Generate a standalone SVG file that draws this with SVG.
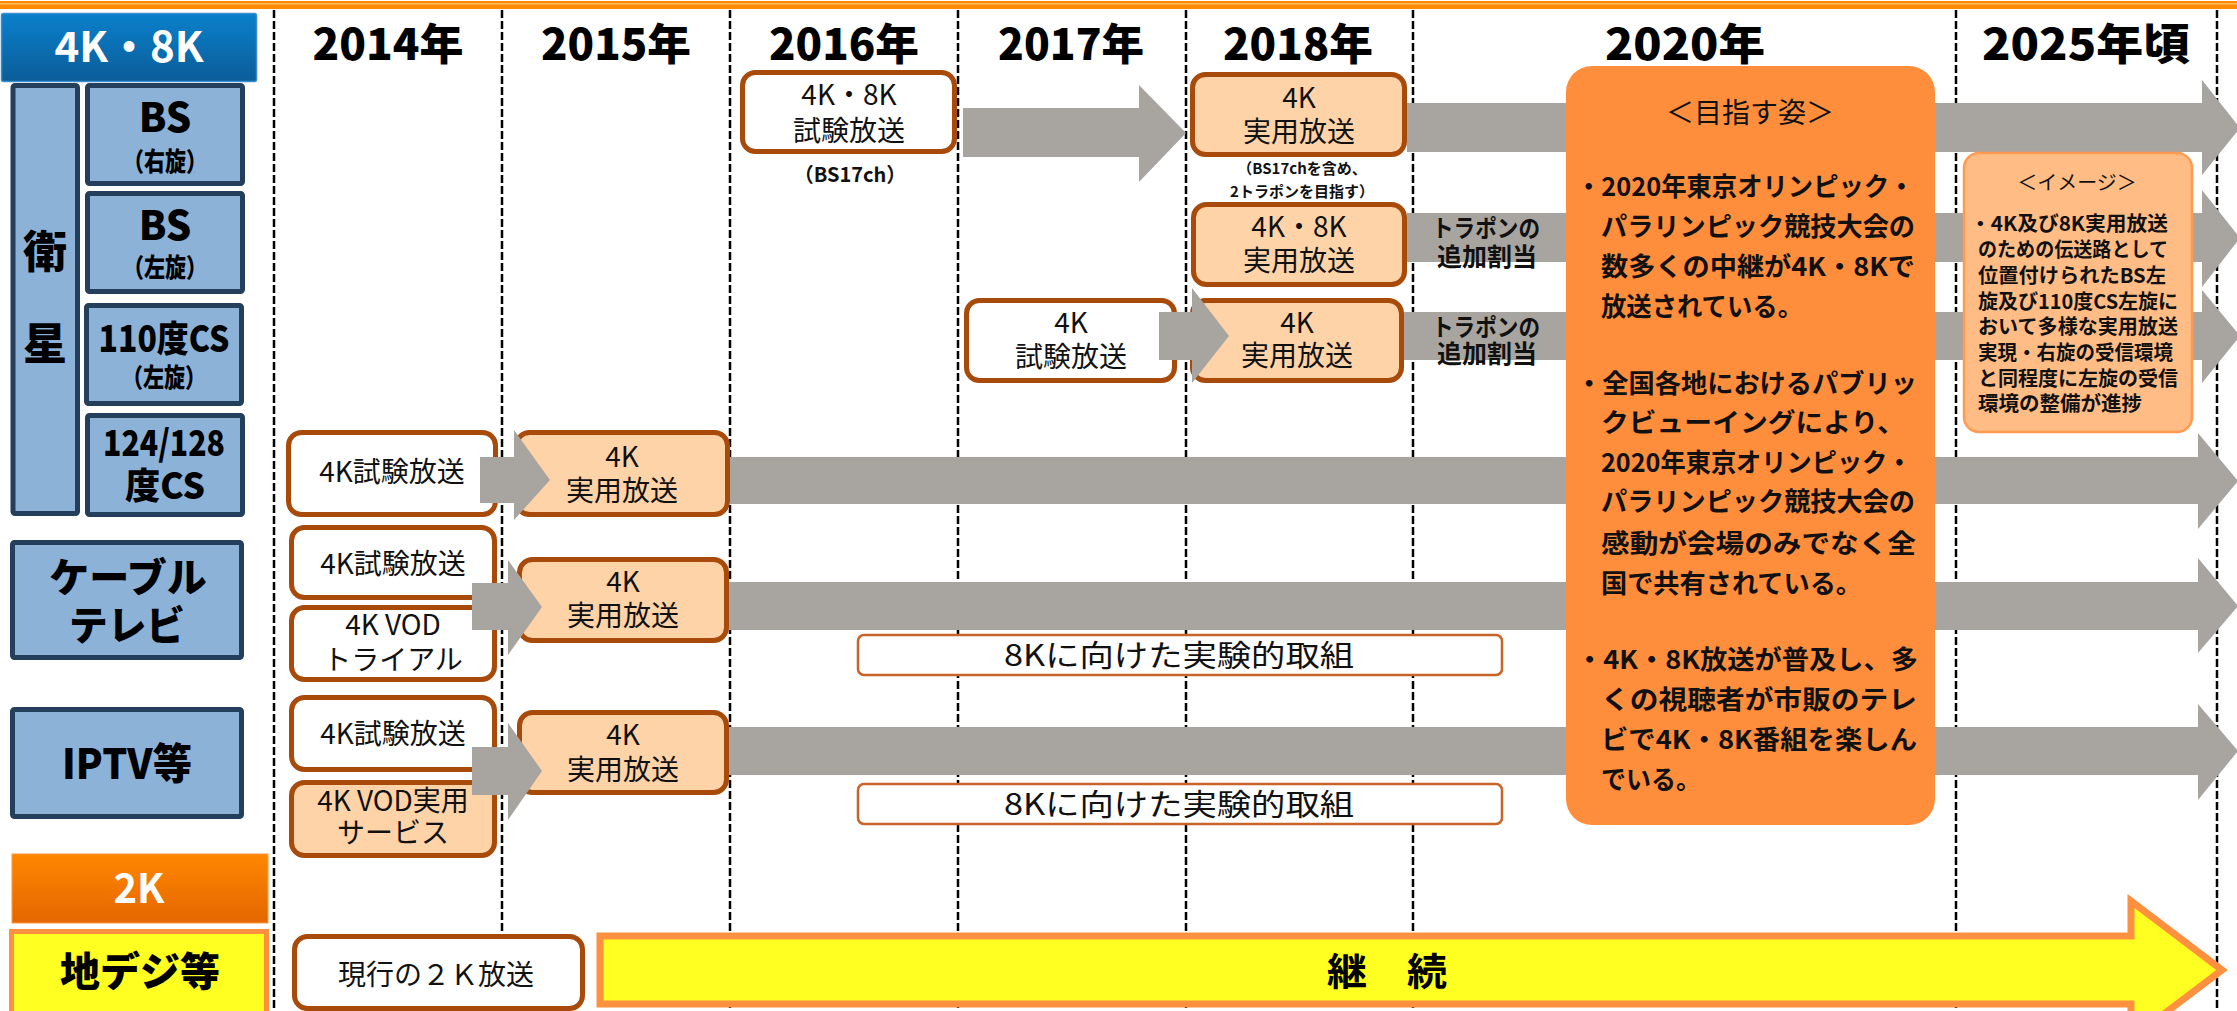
<svg xmlns="http://www.w3.org/2000/svg" width="2237" height="1011" viewBox="0 0 2237 1011">
<defs>
<linearGradient id="gBlue" x1="0" y1="0" x2="0" y2="1"><stop offset="0" stop-color="#0A80CC"/><stop offset="1" stop-color="#0B5D98"/></linearGradient>
<linearGradient id="gOr" x1="0" y1="0" x2="0" y2="1"><stop offset="0" stop-color="#FF8700"/><stop offset="1" stop-color="#E46600"/></linearGradient>
<style>
text{font-family:"Noto Sans CJK JP","Noto Sans",sans-serif;fill:#111}
.c{text-anchor:middle}
.b{font-weight:700}
.yr{font-size:43px;font-weight:900;text-anchor:middle;fill:#000}
.lbl{fill:#8CB2D8;stroke:#233F5C;stroke-width:5}
.box{stroke:#A84A0A;stroke-width:5}
.w{fill:#fff}
.p{fill:#FFD3A8}
.arr{fill:#A8A5A0}
.grid{stroke:#000;stroke-width:2.5;stroke-dasharray:8 3}
.t28{font-size:28px}
.t30{font-size:30px}
.thin{fill:#fff;stroke:#C8632A;stroke-width:2.5}
.para{font-size:26px;font-weight:700}
.img{font-size:20px;font-weight:700}
.lt{font-weight:900;fill:#000}
</style>
</defs>
<rect x="0" y="0" width="2237" height="1011" fill="#fff"/>
<rect x="0" y="1" width="2237" height="8" fill="#FF8C00"/>
<rect x="0" y="3" width="2237" height="1.5" fill="#FFB866"/>

<g id="grid">
<line class="grid" x1="274" y1="10" x2="274" y2="1011"/>
<line class="grid" x1="502" y1="10" x2="502" y2="1011"/>
<line class="grid" x1="730" y1="10" x2="730" y2="1011"/>
<line class="grid" x1="958" y1="10" x2="958" y2="1011"/>
<line class="grid" x1="1186" y1="10" x2="1186" y2="1011"/>
<line class="grid" x1="1413" y1="10" x2="1413" y2="1011"/>
<line class="grid" x1="1956" y1="10" x2="1956" y2="1011"/>
<line class="grid" x1="2217" y1="10" x2="2217" y2="1011"/>
</g>

<g id="years">
<text class="yr" x="388" y="60" textLength="151" lengthAdjust="spacingAndGlyphs">2014年</text>
<text class="yr" x="616" y="60" textLength="150" lengthAdjust="spacingAndGlyphs">2015年</text>
<text class="yr" x="844" y="60" textLength="150" lengthAdjust="spacingAndGlyphs">2016年</text>
<text class="yr" x="1071" y="60" textLength="146" lengthAdjust="spacingAndGlyphs">2017年</text>
<text class="yr" x="1298" y="60" textLength="150" lengthAdjust="spacingAndGlyphs">2018年</text>
<text class="yr" x="1685" y="60" textLength="160" lengthAdjust="spacingAndGlyphs">2020年</text>
<text class="yr" x="2086" y="60" textLength="208" lengthAdjust="spacingAndGlyphs">2025年頃</text>
</g>

<g id="hdr-4k8k">
<rect x="1.5" y="13.5" width="255" height="68" rx="2" fill="url(#gBlue)" stroke="#3B8FCF" stroke-width="1.5"/>
<text class="c b" x="129" y="62" font-size="42" style="fill:#fff">4K・8K</text>
</g>
<g id="lbl-eisei">
<rect class="lbl" x="13" y="85.5" width="64.5" height="428" rx="2"/>
<text class="c lt" x="45" y="268" font-size="44">衛</text>
<text class="c lt" x="45" y="360" font-size="44">星</text>
</g>
<g id="lbl-bs-r">
<rect class="lbl" x="87.5" y="85.5" width="155" height="98" rx="2"/>
<text class="c lt" x="165" y="132" font-size="40">BS</text>
<text class="c lt" x="165" y="171" font-size="26" textLength="84" lengthAdjust="spacingAndGlyphs">（右旋）</text>
</g>
<g id="lbl-bs-l">
<rect class="lbl" x="87.5" y="193.5" width="155" height="98" rx="2"/>
<text class="c lt" x="165" y="240" font-size="40">BS</text>
<text class="c lt" x="165" y="277" font-size="26" textLength="84" lengthAdjust="spacingAndGlyphs">（左旋）</text>
</g>
<g id="lbl-cs110">
<rect class="lbl" x="86.5" y="305.5" width="155" height="98" rx="2"/>
<text class="c lt" x="164" y="352" font-size="36" textLength="131" lengthAdjust="spacingAndGlyphs">110度CS</text>
<text class="c lt" x="164" y="387" font-size="26" textLength="84" lengthAdjust="spacingAndGlyphs">（左旋）</text>
</g>
<g id="lbl-cs124">
<rect class="lbl" x="87.5" y="415.5" width="155" height="99" rx="2"/>
<text class="c lt" x="164" y="456" font-size="36" textLength="122" lengthAdjust="spacingAndGlyphs">124/128</text>
<text class="c lt" x="165" y="499" font-size="36" textLength="80" lengthAdjust="spacingAndGlyphs">度CS</text>
</g>
<g id="lbl-cable">
<rect class="lbl" x="12.5" y="542.5" width="229" height="115" rx="2"/>
<text class="c lt" x="128" y="592" font-size="40">ケーブル</text>
<text class="c lt" x="127" y="640" font-size="40" textLength="116" lengthAdjust="spacingAndGlyphs">テレビ</text>
</g>
<g id="lbl-iptv">
<rect class="lbl" x="12.5" y="709.5" width="229" height="107" rx="2"/>
<text class="c lt" x="127" y="779" font-size="42" textLength="130" lengthAdjust="spacingAndGlyphs">IPTV等</text>
</g>
<g id="hdr-2k">
<rect x="12" y="854" width="256" height="69" fill="url(#gOr)" stroke="#FF9A40" stroke-width="1"/>
<text class="c b" x="139" y="903" font-size="40" style="fill:#fff">2K</text>
</g>
<g id="lbl-chideji">
<rect x="11.5" y="931.5" width="255" height="82" fill="#FFFF22" stroke="#FF9040" stroke-width="5"/>
<text class="c lt" x="140" y="986" font-size="40">地デジ等</text>
</g>

<g id="n-2016-bs">
<rect class="box w" x="742.5" y="72.5" width="212" height="79" rx="13"/>
<text class="c t28" x="849" y="105">4K・8K</text>
<text class="c t28" x="849" y="141">試験放送</text>
<text class="c b" x="850" y="182" font-size="20">（BS17ch）</text>
</g>
<g id="n-2018-bs-r">
<rect class="box p" x="1192.5" y="74.5" width="212" height="80" rx="13"/>
<text class="c t28" x="1299" y="108">4K</text>
<text class="c t28" x="1299" y="142">実用放送</text>
<text class="c b" x="1302" y="174" font-size="15">（BS17chを含め、</text>
<text class="c b" x="1302" y="197" font-size="15">2トラポンを目指す）</text>
</g>
<g id="n-2018-bs-l">
<rect class="box p" x="1193.5" y="204.5" width="211" height="80" rx="13"/>
<text class="c t28" x="1299" y="237">4K・8K</text>
<text class="c t28" x="1299" y="271">実用放送</text>
</g>
<g id="n-2017-cs">
<rect class="box w" x="966.5" y="300.5" width="208" height="80" rx="13"/>
<text class="c t28" x="1071" y="333">4K</text>
<text class="c t28" x="1071" y="367">試験放送</text>
</g>
<g id="n-2018-cs">
<rect class="box p" x="1192.5" y="300.5" width="209" height="80" rx="13"/>
<text class="c t28" x="1297" y="333">4K</text>
<text class="c t28" x="1297" y="366">実用放送</text>
</g>
<g id="n-2014-cs124">
<rect class="box w" x="288.5" y="432.5" width="207" height="82" rx="13"/>
<text class="c t28" x="392" y="482">4K試験放送</text>
</g>
<g id="n-2015-cs124">
<rect class="box p" x="516.5" y="432.5" width="211" height="82" rx="13"/>
<text class="c t28" x="622" y="467">4K</text>
<text class="c t28" x="622" y="501">実用放送</text>
</g>
<g id="n-2014-cable-test">
<rect class="box w" x="291.5" y="527.5" width="203" height="70" rx="13"/>
<text class="c t28" x="393" y="574">4K試験放送</text>
</g>
<g id="n-2014-cable-vod">
<rect class="box w" x="291.5" y="607.5" width="203" height="72" rx="13"/>
<text class="c t28" x="393" y="635">4K VOD</text>
<text class="c t28" x="393" y="670">トライアル</text>
</g>
<g id="n-2015-cable">
<rect class="box p" x="519.5" y="559.5" width="207" height="81" rx="13"/>
<text class="c t28" x="623" y="592">4K</text>
<text class="c t28" x="623" y="626">実用放送</text>
</g>
<g id="n-2014-iptv-test">
<rect class="box w" x="291.5" y="697.5" width="203" height="72" rx="13"/>
<text class="c t28" x="393" y="744">4K試験放送</text>
</g>
<g id="n-2014-iptv-vod">
<rect class="box p" x="291.5" y="782.5" width="203" height="73" rx="13"/>
<text class="c t28" x="393" y="811">4K VOD実用</text>
<text class="c t28" x="393" y="843">サービス</text>
</g>
<g id="n-2015-iptv">
<rect class="box p" x="519.5" y="712.5" width="207" height="80" rx="13"/>
<text class="c t28" x="623" y="745">4K</text>
<text class="c t28" x="623" y="780">実用放送</text>
</g>
<g id="n-2k-current">
<rect class="box w" x="294.5" y="936.5" width="288" height="72" rx="13"/>
<text class="c t28" x="436" y="985">現行の２Ｋ放送</text>
</g>

<g id="connectors">
<polygon class="arr" points="963,108 1139,108 1139,85 1186,133 1139,182 1139,157 963,157"/>
<polygon class="arr" points="1407,103 2202,103 2202,80 2240,128 2202,175 2202,152 1407,152"/>
<polygon class="arr" points="1407,213 2202,213 2202,190 2240,238 2202,287 2202,262 1407,262"/>
<polygon class="arr" points="1159,312 1192,312 1192,288 1229,336 1192,383 1192,360 1159,360"/>
<polygon class="arr" points="1404,312 2202,312 2202,290 2240,336 2202,383 2202,360 1404,360"/>
<polygon class="arr" points="480,457 514,457 514,430 550,480 514,520 514,503 480,503"/>
<polygon class="arr" points="730,457 2198,457 2198,433 2238,481 2198,529 2198,504 730,504"/>
<polygon class="arr" points="472,583 508,583 508,560 542,607 508,655 508,630 472,630"/>
<polygon class="arr" points="729,582 2198,582 2198,558 2238,606 2198,653 2198,630 729,630"/>
<polygon class="arr" points="472,747 508,747 508,723 542,771 508,820 508,795 472,795"/>
<polygon class="arr" points="729,727 2198,727 2198,704 2238,751 2198,800 2198,775 729,775"/>
<text class="c b" x="1486" y="237" font-size="24" textLength="108" lengthAdjust="spacingAndGlyphs">トラポンの</text>
<text class="c b" x="1487" y="266" font-size="25">追加割当</text>
<text class="c b" x="1486" y="336" font-size="24" textLength="108" lengthAdjust="spacingAndGlyphs">トラポンの</text>
<text class="c b" x="1487" y="363" font-size="25">追加割当</text>
</g>

<g id="n-8k-cable">
<rect class="thin" x="858" y="635" width="644" height="40" rx="6"/>
<text class="c t30" x="1179" y="666" textLength="350" lengthAdjust="spacingAndGlyphs">8Kに向けた実験的取組</text>
</g>
<g id="n-8k-iptv">
<rect class="thin" x="858" y="784" width="644" height="40" rx="6"/>
<text class="c t30" x="1179" y="815" textLength="350" lengthAdjust="spacingAndGlyphs">8Kに向けた実験的取組</text>
</g>

<g id="n-2020-goal">
<rect x="1566" y="66" width="369" height="759" rx="26" fill="#FF8E3C"/>
<text class="c t28" x="1750" y="123">＜目指す姿＞</text>
<text class="para" x="1576" y="196" textLength="338" lengthAdjust="spacingAndGlyphs">・2020年東京オリンピック・</text>
<text class="para" x="1601" y="236" textLength="314" lengthAdjust="spacingAndGlyphs">パラリンピック競技大会の</text>
<text class="para" x="1601" y="276" textLength="314" lengthAdjust="spacingAndGlyphs">数多くの中継が4K・8Kで</text>
<text class="para" x="1601" y="316" textLength="202" lengthAdjust="spacingAndGlyphs">放送されている。</text>
<text class="para" x="1576" y="393" textLength="341" lengthAdjust="spacingAndGlyphs">・全国各地におけるパブリッ</text>
<text class="para" x="1601" y="432" textLength="304" lengthAdjust="spacingAndGlyphs">クビューイングにより、</text>
<text class="para" x="1601" y="472" textLength="311" lengthAdjust="spacingAndGlyphs">2020年東京オリンピック・</text>
<text class="para" x="1601" y="511" textLength="314" lengthAdjust="spacingAndGlyphs">パラリンピック競技大会の</text>
<text class="para" x="1601" y="553" textLength="315" lengthAdjust="spacingAndGlyphs">感動が会場のみでなく全</text>
<text class="para" x="1601" y="593" textLength="261" lengthAdjust="spacingAndGlyphs">国で共有されている。</text>
<text class="para" x="1576" y="669" textLength="342" lengthAdjust="spacingAndGlyphs">・4K・8K放送が普及し、多</text>
<text class="para" x="1601" y="709" textLength="316" lengthAdjust="spacingAndGlyphs">くの視聴者が市販のテレ</text>
<text class="para" x="1601" y="749" textLength="316" lengthAdjust="spacingAndGlyphs">ビで4K・8K番組を楽しん</text>
<text class="para" x="1601" y="789" textLength="100" lengthAdjust="spacingAndGlyphs">でいる。</text>
</g>

<g id="n-2025-image">
<rect x="1964" y="153" width="228" height="279" rx="15" fill="#FFBD85" stroke="#FF9A50" stroke-width="2.5"/>
<text class="c" x="2077" y="190" font-size="20">＜イメージ＞</text>
<text class="img" x="1970" y="231" textLength="198" lengthAdjust="spacingAndGlyphs">・4K及び8K実用放送</text>
<text class="img" x="1978" y="257" textLength="190" lengthAdjust="spacingAndGlyphs">のための伝送路として</text>
<text class="img" x="1978" y="283" textLength="188" lengthAdjust="spacingAndGlyphs">位置付けられたBS左</text>
<text class="img" x="1978" y="309" textLength="200" lengthAdjust="spacingAndGlyphs">旋及び110度CS左旋に</text>
<text class="img" x="1978" y="334" textLength="200" lengthAdjust="spacingAndGlyphs">おいて多様な実用放送</text>
<text class="img" x="1978" y="360" textLength="195" lengthAdjust="spacingAndGlyphs">実現・右旋の受信環境</text>
<text class="img" x="1978" y="386" textLength="200" lengthAdjust="spacingAndGlyphs">と同程度に左旋の受信</text>
<text class="img" x="1978" y="411" textLength="164" lengthAdjust="spacingAndGlyphs">環境の整備が進捗</text>
</g>

<g id="n-keizoku">
<polygon points="600,936 2131,936 2131,901 2222,970 2131,1039 2131,1004 600,1004" fill="#FFFF22" stroke="#FF9040" stroke-width="7"/>
<text class="c b" x="1387" y="985" font-size="38" textLength="120" lengthAdjust="spacingAndGlyphs" style="fill:#000">継　続</text>
</g>
</svg>
